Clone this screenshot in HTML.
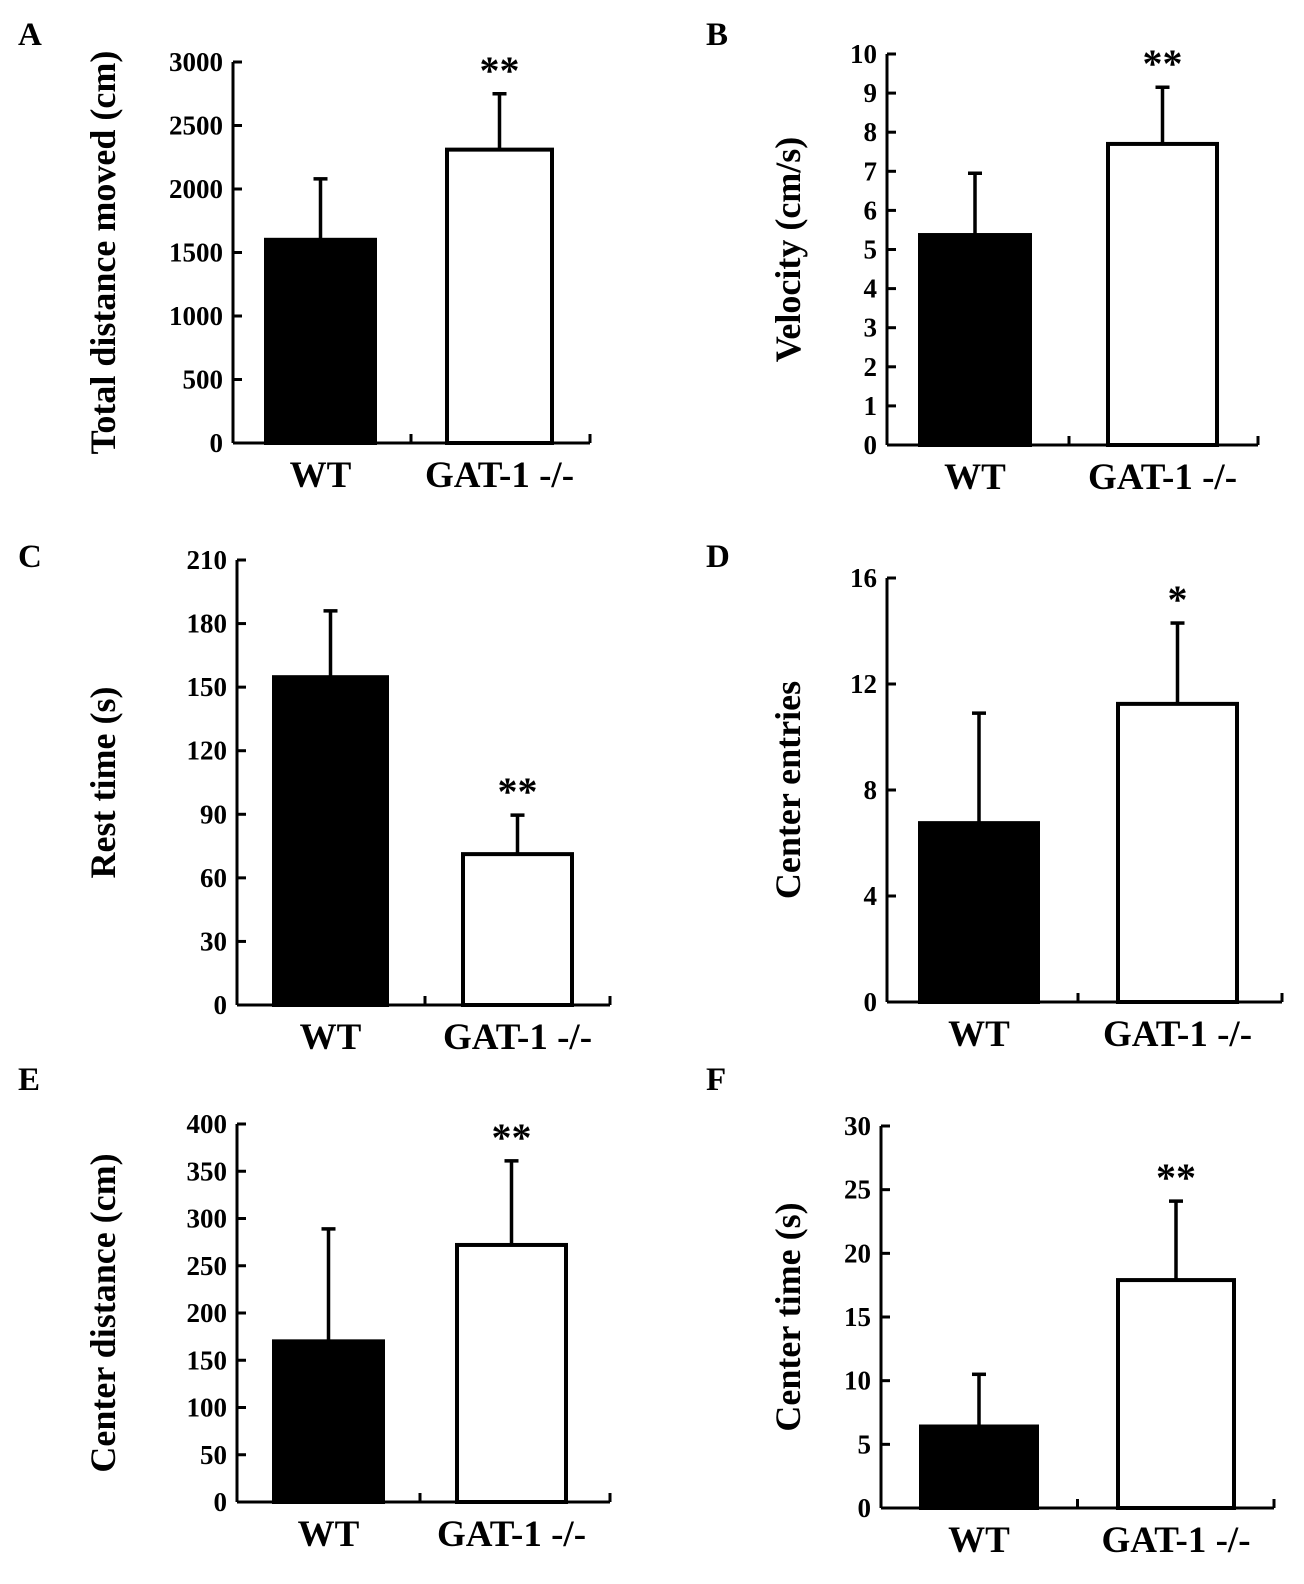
<!DOCTYPE html>
<html><head><meta charset="utf-8"><style>
body{margin:0;background:#fff}
svg{display:block;font-family:"Liberation Serif",serif;font-weight:bold}
</style></head><body>
<svg id="fig" width="1304" height="1584" viewBox="0 0 1304 1584"></svg>
<script>
const categories = ["WT", "GAT-1 -/-"];
const meansA = [1600, 2310]; const errA = [2080, 2750];
const meansB = [5.37, 7.7]; const errB = [6.95, 9.15];
const meansC = [154.7, 71.2]; const errC = [186, 89.6];
const meansD = [6.75, 11.25]; const errD = [10.9, 14.3];
const meansE = [170, 272]; const errE = [289, 361];
const meansF = [6.4, 17.9]; const errF = [10.5, 24.1];
const ticksA = [0,500,1000,1500,2000,2500,3000];
const ticksB = [0,1,2,3,4,5,6,7,8,9,10];
const ticksC = [0,30,60,90,120,150,180,210];
const ticksD = [0,4,8,12,16];
const ticksE = [0,50,100,150,200,250,300,350,400];
const ticksF = [0,5,10,15,20,25,30];
const sigs = ["**","**","**","*","**","**"];

const NS="http://www.w3.org/2000/svg";
const svg=document.getElementById('fig');
function mk(tag,attrs,parent,text){const e=document.createElementNS(NS,tag);for(const k in attrs)e.setAttribute(k,attrs[k]);if(text!==undefined)e.textContent=text;(parent||svg).appendChild(e);return e;}

const panels=[
 {letter:"A",lx:18,ly:45,ax:233,x1:590,y0:443,y1:62,ticks:ticksA,means:meansA,errs:errA,bars:[[266,375],[447,552]],title:"Total distance moved (cm)",tx:115,cy:470,sigIdx:0},
 {letter:"B",lx:706,ly:45,ax:887,x1:1258,y0:445,y1:54,ticks:ticksB,means:meansB,errs:errB,bars:[[920,1030],[1108,1217]],title:"Velocity (cm/s)",tx:800,cy:477,sigIdx:1},
 {letter:"C",lx:18,ly:567,ax:237,x1:610,y0:1005,y1:560,ticks:ticksC,means:meansC,errs:errC,bars:[[274,387],[463,572]],title:"Rest time (s)",tx:115,cy:1037,sigIdx:2},
 {letter:"D",lx:706,ly:567,ax:887,x1:1282,y0:1002,y1:578,ticks:ticksD,means:meansD,errs:errD,bars:[[920,1038],[1118,1237]],title:"Center entries",tx:800,cy:1036,sigIdx:3},
 {letter:"E",lx:18,ly:1090,ax:237,x1:610,y0:1502,y1:1124,ticks:ticksE,means:meansE,errs:errE,bars:[[274,383],[457,566]],title:"Center distance (cm)",tx:115,cy:1536,sigIdx:4},
 {letter:"F",lx:706,ly:1090,ax:881,x1:1274,y0:1508,y1:1126,ticks:ticksF,means:meansF,errs:errF,bars:[[921,1037],[1118,1234]],title:"Center time (s)",tx:800,cy:1542,sigIdx:5}
];

panels.forEach((p,pi)=>{
 const g=mk('g',{});
 
 
 const tmax=p.ticks[p.ticks.length-1];
 const y=v=>p.y0+(p.y1-p.y0)*v/tmax;
 let t=mk('text',{x:p.lx,y:p.ly,'font-size':33},g,p.letter);
 
 
 p.means.forEach((m,i)=>{
  const [bx0,bx1]=p.bars[i];const cx=(bx0+bx1)/2;
  const eb=mk('line',{x1:cx,x2:cx,y1:y(m),y2:y(p.errs[i]),stroke:'#000','stroke-width':3.5},g);
  
  
  const cap=mk('line',{x1:cx-7,x2:cx+7,y1:y(p.errs[i]),y2:y(p.errs[i]),stroke:'#000','stroke-width':3.5},g);
  
  
  const r=mk('rect',{x:bx0,y:y(m),width:bx1-bx0,height:p.y0-y(m),fill:i?'#fff':'#000',stroke:'#000','stroke-width':4},g);
  
  
  const c=mk('text',{x:cx,y:p.y0+44,'font-size':37,'text-anchor':'middle'},g,categories[i]);
  
  
 });
 const gi=1;const gx=(p.bars[gi][0]+p.bars[gi][1])/2;
 const s=mk('text',{x:gx,y:y(p.errs[gi])-10,'font-size':40,'text-anchor':'middle'},g,sigs[p.sigIdx]);
 
 
 const ya=mk('line',{x1:p.ax,x2:p.ax,y1:p.y0,y2:p.y1,stroke:'#000','stroke-width':3},g);
 
 
 const xa=mk('line',{x1:p.ax,x2:p.x1,y1:p.y0,y2:p.y0,stroke:'#000','stroke-width':3},g);
 
 
 const mid=(p.bars[0][1]+p.bars[1][0])/2;
 [mid,p.x1].forEach(xx=>{const tk=mk('line',{x1:xx,x2:xx,y1:p.y0,y2:p.y0-9,stroke:'#000','stroke-width':3},g);
  
  });
 p.ticks.forEach(v=>{
  const tk=mk('line',{x1:p.ax,x2:p.ax+9,y1:y(v),y2:y(v),stroke:'#000','stroke-width':3},g);
  
  
  const tl=mk('text',{x:p.ax-10,y:y(v)+9,'font-size':27,'text-anchor':'end'},g,String(v));
  
  
 });
 const yt=(p.y0+p.y1)/2;
 const tt=mk('text',{x:0,y:0,'font-size':36,'text-anchor':'middle',transform:`translate(${p.tx},${yt}) rotate(-90)`},g,p.title);
 
 
});
</script>
</body></html>
